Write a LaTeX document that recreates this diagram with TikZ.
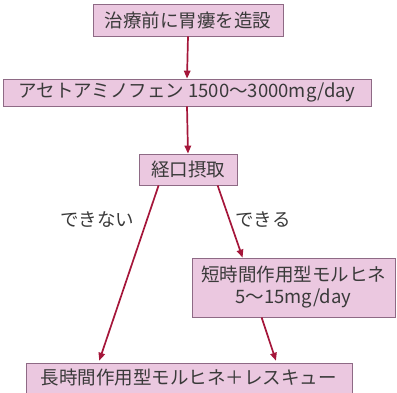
\documentclass[tikz,border=0pt]{standalone}
\usepackage{fontspec}
\setmainfont{Noto Sans CJK JP}
\usetikzlibrary{arrows.meta,calc}
\definecolor{boxfill}{HTML}{EBC8E0}
\definecolor{boxdraw}{HTML}{8E6A85}
\definecolor{arr}{HTML}{A5163A}
\definecolor{txt}{HTML}{3A3A3A}
\tikzset{
  box/.style={draw=boxdraw,fill=boxfill,line width=0.8pt,inner sep=0pt,align=center,
    text=txt,font=\fontsize{18.5}{21}\selectfont},
  link/.style={draw=arr,line width=1.7pt,-{Triangle[length=8pt,width=6.5pt]}},
  lbl/.style={text=txt,font=\fontsize{18.5}{21}\selectfont,inner sep=0pt}
}
\begin{document}
\begin{tikzpicture}[x=1pt,y=-1pt]
\useasboundingbox (0,0) rectangle (397,393);
\node[box,minimum width=190pt,minimum height=32pt] (b1) at (188,20) {治療前に胃瘻を造設};
\node[box,minimum width=368pt,minimum height=27pt] (b2) at (187,92.5) {アセトアミノフェン 1500～3000mg/day};
\node[box,minimum width=98pt,minimum height=31pt] (b3) at (188,169.5) {経口摂取};
\node[box,minimum width=203pt,minimum height=59pt,font=\fontsize{18.5}{22}\selectfont] (b4) at (293.5,287.5) {短時間作用型モルヒネ\\5～15mg/day};
\node[box,minimum width=326pt,minimum height=30pt] (b5) at (189,378) {長時間作用型モルヒネ＋レスキュー};
\draw[link] (b1.south) -- (b2.north);
\draw[link] (b2.south) -- (b3.north);
\draw[link,shorten >=2pt] ($(b3.south west)+(20,0)$) -- ($(b5.north west)+(73,0)$);
\draw[link] ($(b3.south west)+(79,0)$) -- ($(b4.north west)+(51,0)$);
\draw[link,shorten >=2pt] ($(b4.south west)+(70,0)$) -- ($(b5.north west)+(251,0)$);
\node[lbl] (l1) at (97,220) {できない};
\node[lbl] (l2) at (263,220) {できる};
\end{tikzpicture}
\end{document}
